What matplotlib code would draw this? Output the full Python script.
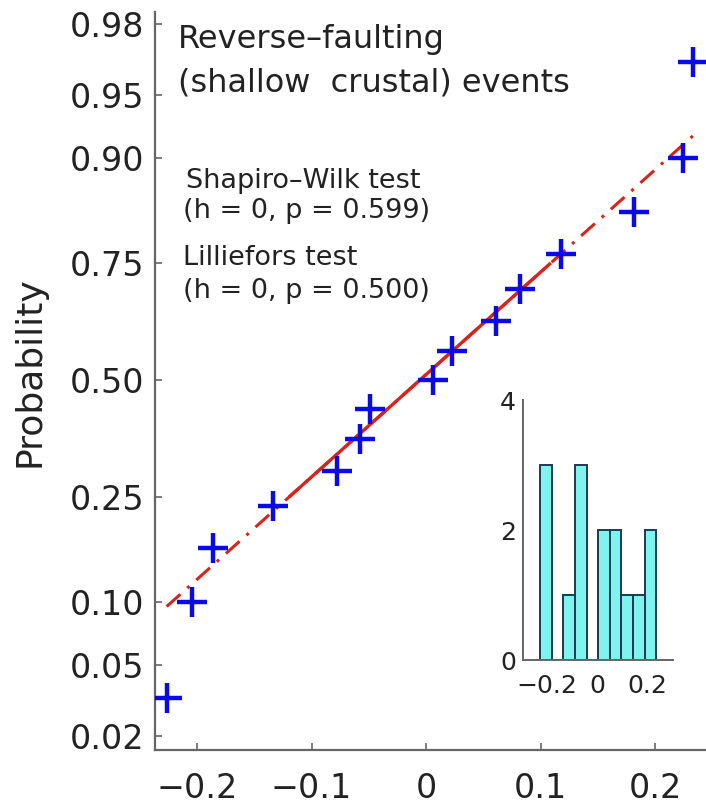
import math
import numpy as np
import matplotlib
matplotlib.use("Agg")
import matplotlib.pyplot as plt
from matplotlib.ticker import FixedLocator, FixedFormatter

# ---------------- data ----------------
residuals = [-0.2265, -0.2046, -0.1858, -0.1334, -0.0780, -0.0576, -0.0489,
             0.0064, 0.0224, 0.0611, 0.0820, 0.1180, 0.1820, 0.2247, 0.2335]
plot_prob = [0.0333, 0.1000, 0.1667, 0.2333, 0.3000, 0.3667, 0.4333,
             0.5000, 0.5667, 0.6333, 0.7000, 0.7667, 0.8333, 0.9000, 0.9667]
prob_ticks = [0.02, 0.05, 0.10, 0.25, 0.50, 0.75, 0.90, 0.95, 0.98]
prob_labels = ["0.02", "0.05", "0.10", "0.25", "0.50", "0.75", "0.90", "0.95", "0.98"]
x_ticks = [-0.2, -0.1, 0.0, 0.1, 0.2]
x_labels = ["\u22120.2", "\u22120.1", "0", "0.1", "0.2"]
inset_xticks = [-0.2, 0.0, 0.2]
inset_xlabels = ["\u22120.2", "0", "0.2"]
inset_yticks = [0, 2, 4]
title_text = "Reverse\u2013faulting\n(shallow  crustal) events"
sw_text = ["Shapiro\u2013Wilk test", "(h = 0, p = 0.599)"]
lf_text = ["Lilliefors test", "(h = 0, p = 0.500)"]


# ---------------- normal probability scale ----------------
def _ppf(p):
    p = np.clip(np.asarray(p, dtype=float), 1e-12, 1 - 1e-12)
    a = [-3.969683028665376e+01, 2.209460984245205e+02, -2.759285104469687e+02,
         1.383577518672690e+02, -3.066479806614716e+01, 2.506628277459239e+00]
    b = [-5.447609879822406e+01, 1.615858368580409e+02, -1.556989798598866e+02,
         6.680131188771972e+01, -1.328068155288572e+01]
    c = [-7.784894002430293e-03, -3.223964580411365e-01, -2.400758277161838e+00,
         -2.549732539343734e+00, 4.374664141464968e+00, 2.938163982698783e+00]
    d = [7.784695709041462e-03, 3.224671290700398e-01, 2.445134137142996e+00,
         3.754408661907416e+00]
    plow = 0.02425
    out = np.empty_like(p)
    lo = p < plow
    hi = p > 1 - plow
    mid = ~(lo | hi)
    q = np.sqrt(-2 * np.log(p[lo]))
    out[lo] = (((((c[0]*q+c[1])*q+c[2])*q+c[3])*q+c[4])*q+c[5]) / \
              ((((d[0]*q+d[1])*q+d[2])*q+d[3])*q+1)
    q = np.sqrt(-2 * np.log(1 - p[hi]))
    out[hi] = -(((((c[0]*q+c[1])*q+c[2])*q+c[3])*q+c[4])*q+c[5]) / \
               ((((d[0]*q+d[1])*q+d[2])*q+d[3])*q+1)
    q = p[mid] - 0.5
    r = q * q
    out[mid] = (((((a[0]*r+a[1])*r+a[2])*r+a[3])*r+a[4])*r+a[5]) * q / \
               (((((b[0]*r+b[1])*r+b[2])*r+b[3])*r+b[4])*r+1)
    return out


_erf = np.vectorize(math.erf)


def _cdf(z):
    z = np.asarray(z, dtype=float)
    return 0.5 * (1 + _erf(z / math.sqrt(2)))


# ---------------- figure ----------------
W, H = 706, 807
fig = plt.figure(figsize=(W / 100, H / 100), dpi=100)
fig.patch.set_facecolor("white")

spine_col = "#666666"
text_col = "#222222"
font = "DejaVu Sans"

ax = fig.add_axes([155 / W, 1 - 750 / H, (W - 155) / W + 0.01, (750 - 12) / H])
ax.set_yscale("function", functions=(_ppf, _cdf))

# reference line through quartiles (MATLAB style prctile)
xs = np.array(residuals)
q1, q3 = np.percentile(xs, [25, 75], method="hazen")
z75 = float(_ppf([0.75])[0])
mu = (q1 + q3) / 2
sigma = (q3 - q1) / (2 * z75)
red = "#d8241a"
x_ext = np.array([xs.min(), xs.max()])
ax.plot(x_ext, _cdf((x_ext - mu) / sigma), color=red, lw=2.2,
        linestyle=(0, (6, 3, 1, 3)), zorder=2)
x_solid = np.array([q1, q3])
ax.plot(x_solid, _cdf((x_solid - mu) / sigma), color=red, lw=2.4,
        solid_capstyle="butt", zorder=2)

ax.plot(residuals, plot_prob, linestyle="none", marker="+", ms=21, mew=3.2,
        color="#0a0ae6", zorder=3)

ax.set_xlim(-0.2367, -0.2367 + (W - 155) / 1145 * 1.0 + 0.01 * W / 1145)
ax.set_ylim(float(_cdf(-2.133)), float(_cdf(2.121)))

ax.yaxis.set_major_locator(FixedLocator(prob_ticks))
ax.yaxis.set_major_formatter(FixedFormatter(prob_labels))
ax.yaxis.set_minor_locator(FixedLocator([]))
ax.set_xticks(x_ticks)
ax.set_xticklabels(x_labels)

for s in ["top", "right"]:
    ax.spines[s].set_visible(False)
for s in ["left", "bottom"]:
    ax.spines[s].set_color(spine_col)
    ax.spines[s].set_linewidth(1.6)

ax.tick_params(axis="both", direction="in", length=5, width=1.2, color=spine_col,
               labelsize=24, labelcolor=text_col)
ax.tick_params(axis="y", pad=8)
ax.tick_params(axis="x", pad=16)
for lab in ax.get_xticklabels() + ax.get_yticklabels():
    lab.set_family(font)

fig.text(30 / W, 1 - 372 / H, "Probability", rotation=90, ha="center",
         va="center", fontsize=26, color=text_col, family=font)

# annotations
ax.text(178, 1 - 48 / H, "", transform=fig.transFigure)
fig.text(178 / W, 1 - 48 / H, "Reverse\u2013faulting", fontsize=23,
         color=text_col, family=font, ha="left", va="baseline")
fig.text(178 / W, 1 - 91 / H, "(shallow  crustal) events", fontsize=23,
         color=text_col, family=font, ha="left", va="baseline")
fig.text(186 / W, 1 - 188 / H, sw_text[0], fontsize=19.5, color=text_col,
         family=font, ha="left", va="baseline")
fig.text(183 / W, 1 - 218 / H, sw_text[1], fontsize=19.5, color=text_col,
         family=font, ha="left", va="baseline")
fig.text(183 / W, 1 - 265 / H, lf_text[0], fontsize=19.5, color=text_col,
         family=font, ha="left", va="baseline")
fig.text(183 / W, 1 - 298 / H, lf_text[1], fontsize=19.5, color=text_col,
         family=font, ha="left", va="baseline")

# ---------------- inset histogram ----------------
ins = fig.add_axes([523 / W, 1 - 660 / H, 150 / W, 260 / H])
ins.hist(residuals, bins=10, color="#7ff4ee", edgecolor="#1c3a55", linewidth=1.4)
ins.set_xlim(-0.295, 0.30)
ins.set_ylim(0, 4)
ins.set_xticks(inset_xticks)
ins.set_xticklabels(inset_xlabels)
ins.set_yticks(inset_yticks)
for s in ["top", "right"]:
    ins.spines[s].set_visible(False)
for s in ["left", "bottom"]:
    ins.spines[s].set_color(spine_col)
    ins.spines[s].set_linewidth(1.4)
ins.tick_params(axis="both", direction="in", length=0, labelsize=18,
                labelcolor=text_col)
ins.tick_params(axis="x", pad=10)
ins.tick_params(axis="y", pad=5)
for lab in ins.get_xticklabels() + ins.get_yticklabels():
    lab.set_family(font)

fig.savefig("out.png", dpi=100)
